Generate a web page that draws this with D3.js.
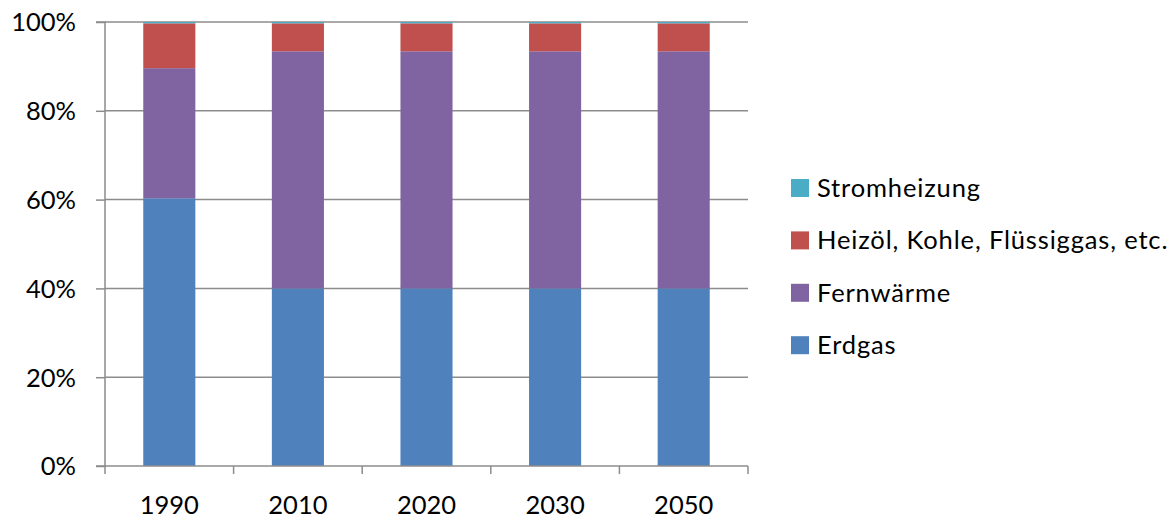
<!DOCTYPE html>
<html>
<head>
<meta charset="utf-8">
<script src="https://cdn.jsdelivr.net/npm/d3@7"></script>
<style>
  html, body { margin: 0; padding: 0; background: #fff; }
  svg { display: block; }
  text { font-family: Lato, "Open Sans", sans-serif; fill: #000; }
</style>
</head>
<body>
<svg id="chart" width="1176" height="520"></svg>
<script>
// Anteile der Heizsysteme je Jahr (in %)
const years = ["1990", "2010", "2020", "2030", "2050"];
const erdgas = [60.3, 40.0, 40.0, 40.0, 40.0];
const fernwaerme = [29.3, 53.4, 53.4, 53.4, 53.4];
const heizoel = [10.1, 6.3, 6.3, 6.3, 6.3];
const stromheizung = [0.3, 0.3, 0.3, 0.3, 0.3];
const seriesNames = ["Erdgas", "Fernwärme", "Heizöl, Kohle, Flüssiggas, etc.", "Stromheizung"];
const seriesColors = ["#4F81BD", "#8064A2", "#C0504D", "#4BACC6"];
const yTicks = [0, 20, 40, 60, 80, 100];

const seriesValues = [erdgas, fernwaerme, heizoel, stromheizung];
const rows = years.map((y, i) => {
  const r = { year: y };
  seriesNames.forEach((n, k) => { r[n] = seriesValues[k][i]; });
  return r;
});

const svg = d3.select("#chart");
const plot = { left: 105, right: 748, top: 22, bottom: 466 };
const fontSize = "25.5px";

const x = d3.scaleBand().domain(years).range([plot.left, plot.right]).paddingInner(0.595).paddingOuter(0.2975);
const y = d3.scaleLinear().domain([0, 100]).range([plot.bottom, plot.top]);
const color = d3.scaleOrdinal().domain(seriesNames).range(seriesColors);

const gridColor = "#8c8c8c";

// horizontale Gitterlinien
svg.append("g")
  .selectAll("line")
  .data(yTicks.filter(t => t > 0))
  .join("line")
  .attr("x1", plot.left).attr("x2", plot.right)
  .attr("y1", d => y(d)).attr("y2", d => y(d))
  .attr("stroke", gridColor).attr("stroke-width", 1.5);

// gestapelte Säulen
const stacked = d3.stack().keys(seriesNames)(rows);
svg.append("g")
  .selectAll("g")
  .data(stacked)
  .join("g")
  .attr("fill", d => color(d.key))
  .selectAll("rect")
  .data(d => d)
  .join("rect")
  .attr("x", d => x(d.data.year))
  .attr("width", x.bandwidth())
  .attr("y", d => y(d[1]))
  .attr("height", d => y(d[0]) - y(d[1]));

// y-Achse
const yAxis = d3.axisLeft(y)
  .tickValues(yTicks)
  .tickFormat(d => d + "%")
  .tickSize(9)
  .tickPadding(20);
const gy = svg.append("g").attr("transform", `translate(${plot.left},0)`).call(yAxis);
gy.select(".domain").attr("stroke", gridColor).attr("stroke-width", 1.5).attr("d", `M-9,${plot.top}H0V${plot.bottom}H-9`);
gy.selectAll(".tick line").attr("stroke", gridColor).attr("stroke-width", 1.5);
gy.selectAll(".tick text").style("font-size", fontSize).attr("dy", "0.35em");

// x-Achse mit Trennstrichen zwischen den Kategorien
const gx = svg.append("g").attr("transform", `translate(0,${plot.bottom})`)
  .call(d3.axisBottom(x).tickSize(0).tickPadding(39));
gx.select(".domain").attr("stroke", gridColor).attr("stroke-width", 1.5).attr("d", `M${plot.left},0H${plot.right}`);
gx.selectAll(".tick text").style("font-size", fontSize).attr("dy", "0.35em");

const step = x.step();
const bounds = d3.range(years.length + 1).map(i => plot.left + i * step);
gx.append("g").selectAll("line")
  .data(bounds)
  .join("line")
  .attr("x1", d => d).attr("x2", d => d)
  .attr("y1", 0).attr("y2", 8)
  .attr("stroke", gridColor).attr("stroke-width", 1.5);

// Legende (oben: Stromheizung, unten: Erdgas)
const legendItems = seriesNames.slice().reverse();
const legend = svg.append("g").attr("transform", "translate(791,188)");
const li = legend.selectAll("g")
  .data(legendItems)
  .join("g")
  .attr("transform", (d, i) => `translate(0,${i * 52.4})`);
li.append("rect")
  .attr("x", 0).attr("y", -9)
  .attr("width", 18).attr("height", 18)
  .attr("fill", d => color(d));
li.append("text")
  .attr("x", 26).attr("y", 0).attr("dy", "0.35em")
  .style("font-size", fontSize)
  .style("letter-spacing", "0.85px")
  .text(d => d);
</script>
</body>
</html>
